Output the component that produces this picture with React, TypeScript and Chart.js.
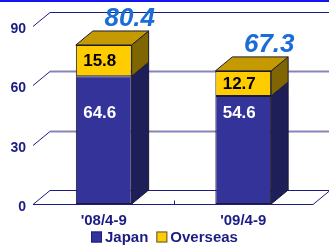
import React, { useEffect, useRef } from "react";
import { Chart, registerables } from "chart.js";

Chart.register(...registerables);

// ---- data ----
const categories = ["'08/4-9", "'09/4-9"];
const japan = [64.6, 54.6];
const overseas = [15.8, 12.7];
const totals = [80.4, 67.3];
const seriesNames = ["Japan", "Overseas"];
const yMin = 0;
const yMax = 90;
const yStep = 30;
const japanLabelAt = 46; // value height where the Japan labels sit

// ---- styles ----
const W = 329;
const H = 246;
const DX = 17;
const DY = -14;
const NAVY = "#1c1c84";
const FONT = "'Liberation Sans', Arial, sans-serif";
const frontColors = ["#333399", "#ffcc00"];
const sideColors = ["#1e1e58", "#806600"];
const topColor = "#c49a00";
const edgeColor = "#1a1a33";
const gridColor = "#8585ba";
const totalColor = "#1a6dd6";

const threeD = {
  id: "threeD",
  beforeDatasetsDraw(chart: any) {
    const { ctx, chartArea, scales } = chart;
    const { left, right, bottom } = chartArea;
    const y = scales.y;
    const x = scales.x;
    const L = left - 1;
    ctx.save();
    // floor
    const fb = Math.round(bottom) + 0.5;
    ctx.beginPath();
    ctx.moveTo(L, fb);
    ctx.lineTo(right, fb);
    ctx.lineTo(right + DX, fb + DY);
    ctx.lineTo(L + DX, fb + DY);
    ctx.closePath();
    ctx.fillStyle = "#ffffff";
    ctx.fill();
    ctx.strokeStyle = NAVY;
    ctx.lineWidth = 1;
    ctx.stroke();
    ctx.beginPath();
    ctx.moveTo(L + DX, fb + DY);
    ctx.lineTo(W, fb + DY);
    ctx.stroke();
    // wall gridlines
    for (let v = yMin + yStep; v <= yMax; v += yStep) {
      const yf = Math.round(y.getPixelForValue(v)) + 0.5;
      const yb = yf + DY;
      ctx.beginPath();
      ctx.moveTo(L, yf);
      ctx.lineTo(L + DX, yb);
      ctx.strokeStyle = NAVY;
      ctx.lineWidth = 1;
      ctx.stroke();
      ctx.beginPath();
      ctx.moveTo(L + DX, yb);
      ctx.lineTo(W, yb);
      if (v === yMax) {
        ctx.strokeStyle = NAVY;
        ctx.lineWidth = 1;
      } else {
        ctx.strokeStyle = gridColor;
        ctx.lineWidth = 2;
      }
      ctx.stroke();
    }
    // category tick between categories
    for (let i = 0; i < categories.length - 1; i++) {
      const xm = Math.round((x.getPixelForValue(i) + x.getPixelForValue(i + 1)) / 2) + 0.5;
      ctx.beginPath();
      ctx.moveTo(xm, fb);
      ctx.lineTo(xm, fb - 4);
      ctx.strokeStyle = NAVY;
      ctx.lineWidth = 1;
      ctx.stroke();
    }
    ctx.restore();
  },
  afterDatasetsDraw(chart: any) {
    const { ctx, scales } = chart;
    const y = scales.y;
    const n = chart.data.datasets.length;
    ctx.save();
    ctx.lineWidth = 1;
    ctx.strokeStyle = edgeColor;
    for (let di = 0; di < n; di++) {
      const meta = chart.getDatasetMeta(di);
      meta.data.forEach((bar: any) => {
        const p = bar.getProps(["x", "y", "base", "width"], true);
        const xl = p.x - p.width / 2;
        const xr = p.x + p.width / 2;
        ctx.beginPath();
        ctx.moveTo(xr, p.y);
        ctx.lineTo(xr + DX, p.y + DY);
        ctx.lineTo(xr + DX, p.base + DY);
        ctx.lineTo(xr, p.base);
        ctx.closePath();
        ctx.fillStyle = sideColors[di];
        ctx.fill();
        ctx.stroke();
        if (di === n - 1) {
          ctx.beginPath();
          ctx.moveTo(xl, p.y);
          ctx.lineTo(xl + DX, p.y + DY);
          ctx.lineTo(xr + DX, p.y + DY);
          ctx.lineTo(xr, p.y);
          ctx.closePath();
          ctx.fillStyle = topColor;
          ctx.fill();
          ctx.stroke();
        }
      });
    }
    // labels
    ctx.textAlign = "center";
    ctx.textBaseline = "middle";
    const metaJ = chart.getDatasetMeta(0);
    const metaO = chart.getDatasetMeta(1);
    categories.forEach((_, i) => {
      const bj = metaJ.data[i].getProps(["x", "y", "base"], true);
      const bo = metaO.data[i].getProps(["x", "y", "base"], true);
      ctx.font = `bold 17px ${FONT}`;
      ctx.fillStyle = "#ffffff";
      ctx.fillText(japan[i].toFixed(1), bj.x - 4, y.getPixelForValue(japanLabelAt));
      ctx.fillStyle = "#000000";
      ctx.fillText(overseas[i].toFixed(1), bo.x - 4, (bo.y + bo.base) / 2 + 1);
      ctx.font = `italic bold 26px ${FONT}`;
      ctx.fillStyle = totalColor;
      ctx.fillText(totals[i].toFixed(1), bo.x + 26, y.getPixelForValue(totals[i]) - 26);
    });
    ctx.restore();
  },
  afterDraw(chart: any) {
    const { ctx } = chart;
    ctx.save();
    // top frame line
    ctx.fillStyle = "#1414f0";
    ctx.fillRect(0, 0, W, 2);
    // legend
    ctx.font = `bold 15px ${FONT}`;
    const box = 11;
    const gapText = 3;
    const gapItem = 8;
    const widths = seriesNames.map((s) => box + gapText + ctx.measureText(s).width);
    const total = widths.reduce((a, b) => a + b, 0) + gapItem * (widths.length - 1);
    let xs = Math.round(W / 2 - total / 2);
    const yc = 237;
    ctx.textAlign = "left";
    ctx.textBaseline = "middle";
    seriesNames.forEach((s, i) => {
      ctx.fillStyle = frontColors[i];
      ctx.fillRect(xs, yc - 5.5, box, box);
      ctx.strokeStyle = i === 0 ? NAVY : "#555555";
      ctx.lineWidth = 1;
      ctx.strokeRect(xs + 0.5, yc - 5, box - 1, box - 1);
      ctx.fillStyle = NAVY;
      ctx.fillText(s, xs + box + gapText, yc + 1);
      xs += widths[i] + gapItem;
    });
    ctx.restore();
  },
};

export default function App() {
  const ref = useRef<HTMLCanvasElement | null>(null);
  useEffect(() => {
    if (!ref.current) return;
    const chart = new Chart(ref.current, {
      type: "bar",
      data: {
        labels: categories,
        datasets: [
          {
            label: seriesNames[0],
            data: japan,
            backgroundColor: frontColors[0],
            borderColor: edgeColor,
            borderWidth: 1,
            borderSkipped: false,
          },
          {
            label: seriesNames[1],
            data: overseas,
            backgroundColor: frontColors[1],
            borderColor: edgeColor,
            borderWidth: 1,
            borderSkipped: false,
          },
        ],
      },
      options: {
        animation: false,
        responsive: false,
        devicePixelRatio: 1,
        datasets: { bar: { categoryPercentage: 1, barPercentage: 0.4 } },
        layout: { padding: { top: 26, right: 16, bottom: 20, left: 0 } },
        plugins: { legend: { display: false }, tooltip: { enabled: false }, title: { display: false } },
        scales: {
          x: {
            stacked: true,
            grid: { display: false, drawTicks: false },
            border: { display: false },
            ticks: { color: NAVY, font: { family: FONT, size: 15, weight: "bold" }, padding: 8 },
            afterFit: (s: any) => {
              s.height = 22;
            },
          },
          y: {
            stacked: true,
            min: yMin,
            max: yMax,
            grid: { display: false, drawTicks: false },
            border: { display: false },
            ticks: {
              stepSize: yStep,
              color: NAVY,
              font: { family: FONT, size: 14, weight: "bold" },
              padding: 8,
              labelOffset: 3,
            },
            afterFit: (s: any) => {
              s.width = 34;
            },
          },
        },
      },
      plugins: [threeD],
    });
    return () => chart.destroy();
  }, []);
  return (
    <div style={{ position: "absolute", left: 0, top: 0, width: W, height: H, background: "#ffffff" }}>
      <canvas ref={ref} width={W} height={H} style={{ display: "block" }} />
    </div>
  );
}
